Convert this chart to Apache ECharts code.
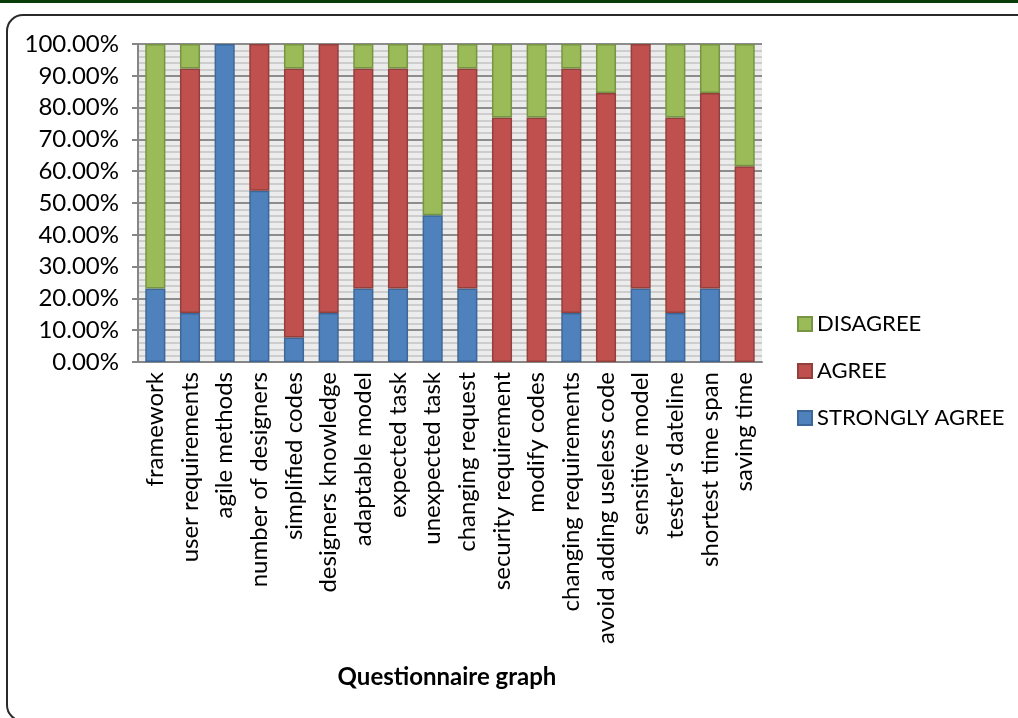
<!DOCTYPE html>
<html>
<head>
<meta charset="utf-8">
<script src="https://cdn.jsdelivr.net/npm/echarts@6/dist/echarts.min.js"></script>
<style>
  html, body { margin: 0; padding: 0; background: #ffffff; }
  #chart { width: 1018px; height: 718px; }
</style>
</head>
<body>
<div id="chart"></div>
<script>
// Survey items (x axis)
const categories = [
  'framework', 'user requirements', 'agile methods', 'number of designers',
  'simplified codes', 'designers knowledge', 'adaptable model', 'expected task',
  'unexpected task', 'changing request', 'security requirement', 'modify codes',
  'changing requirements', 'avoid adding useless code', 'sensitive model',
  "tester's dateline", 'shortest time span', 'saving time'
];

// Share of responses per item, in percent (13 respondents)
const stronglyAgree = [23.08, 15.38, 100, 53.85, 7.69, 15.38, 23.08, 23.08, 46.15, 23.08, 0, 0, 15.38, 0, 23.08, 15.38, 23.08, 0];
const agree         = [0, 76.92, 0, 46.15, 84.62, 84.62, 69.23, 69.23, 0, 69.23, 76.92, 76.92, 76.92, 84.62, 76.92, 61.54, 61.54, 61.54];
const disagree      = [76.92, 7.69, 0, 0, 7.69, 0, 7.69, 7.69, 53.85, 7.69, 23.08, 23.08, 7.69, 15.38, 0, 23.08, 15.38, 38.46];

const seriesNames = ['STRONGLY AGREE', 'AGREE', 'DISAGREE'];
const legendOrder = ['DISAGREE', 'AGREE', 'STRONGLY AGREE'];
const yTickValues = [0, 10, 20, 30, 40, 50, 60, 70, 80, 90, 100];

const FONT = 'Lato, "Open Sans", sans-serif';

const chart = echarts.init(document.getElementById('chart'), null, { renderer: 'canvas' });

// Empty segments are left out so no outline is drawn for them
function barSeries(name, data, fill, edge) {
  return {
    name: name,
    type: 'bar',
    stack: 'total',
    data: data.map(function (v) { return v === 0 ? '-' : v; }),
    barWidth: '58%',
    itemStyle: { color: fill, borderColor: edge, borderWidth: 1.5 }
  };
}

chart.setOption({
  animation: false,
  backgroundColor: '#ffffff',
  textStyle: { fontFamily: FONT },
  grid: {
    left: 138, right: 256, top: 44, bottom: 356,
    show: true, backgroundColor: '#ececec', borderWidth: 0
  },
  legend: {
    orient: 'vertical',
    left: 792,
    top: 308,
    itemGap: 25,
    itemWidth: 14,
    itemHeight: 14,
    icon: 'rect',
    data: legendOrder,
    textStyle: { fontFamily: FONT, fontSize: 22, color: '#000', lineHeight: 22 }
  },
  xAxis: {
    type: 'category',
    data: categories,
    axisLine: { lineStyle: { color: '#868686', width: 2 } },
    axisTick: { show: false },
    axisLabel: {
      rotate: 90,
      interval: 0,
      margin: 10,
      fontFamily: FONT,
      fontSize: 24,
      color: '#000'
    }
  },
  yAxis: {
    type: 'value',
    min: yTickValues[0],
    max: yTickValues[yTickValues.length - 1],
    interval: 10,
    axisLine: { show: true, lineStyle: { color: '#868686', width: 2 } },
    axisTick: { show: true, length: 6, lineStyle: { color: '#868686', width: 2 } },
    minorTick: { show: false, splitNumber: 5 },
    splitLine: { show: true, lineStyle: { color: '#8c8c8c', width: 2 } },
    minorSplitLine: { show: true, lineStyle: { color: '#c2c2c2', width: 1.5 } },
    axisLabel: {
      margin: 19,
      fontFamily: FONT,
      fontSize: 24,
      color: '#000',
      formatter: function (v) { return v.toFixed(2) + '%'; }
    }
  },
  graphic: [
    { type: 'rect', shape: { x: 0, y: 0, width: 1018, height: 3 }, style: { fill: '#083d0a' }, z: 10 },
    {
      type: 'rect',
      shape: { x: 7, y: 15, width: 1040, height: 706, r: 16 },
      style: { fill: null, stroke: '#2a2a2a', lineWidth: 2 },
      silent: true, z: 10
    },
    {
      type: 'text',
      x: 447, y: 665,
      style: {
        text: 'Questionnaire graph',
        fontFamily: FONT, fontSize: 24, fontWeight: 'bold',
        fill: '#000', textAlign: 'center', textVerticalAlign: 'top'
      },
      z: 10
    }
  ],
  series: [
    barSeries(seriesNames[0], stronglyAgree, '#4f81bd', '#3d6796'),
    barSeries(seriesNames[1], agree, '#c0504d', '#93403d'),
    barSeries(seriesNames[2], disagree, '#9bbb59', '#769444')
  ]
});
</script>
</body>
</html>
